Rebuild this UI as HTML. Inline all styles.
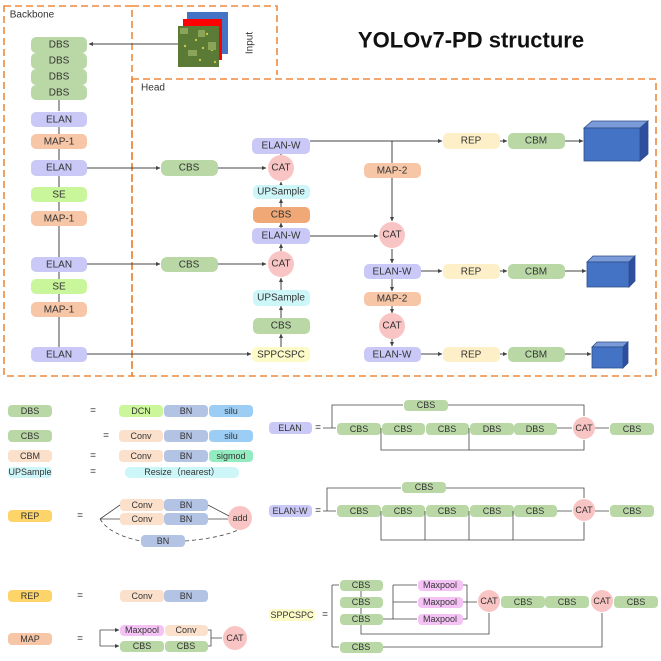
<!DOCTYPE html>
<html><head><meta charset="utf-8"><style>
html,body{margin:0;padding:0;background:#fff}
svg{display:block}
text{font-family:"Liberation Sans",sans-serif;font-size:10px;fill:#333;text-anchor:middle;dominant-baseline:central}
.s{font-size:9px}
</style></head><body>
<svg width="661" height="661" viewBox="0 0 661 661" xmlns="http://www.w3.org/2000/svg">
<defs>
<marker id="a" markerWidth="5" markerHeight="5" refX="4" refY="2.5" orient="auto" markerUnits="userSpaceOnUse"><path d="M0,0.5 L4.5,2.5 L0,4.5z" fill="#444"/></marker>
</defs>
<!-- dashed boxes -->
<g fill="none" stroke="#ed8a3f" stroke-width="1.6" stroke-dasharray="7,4">
<rect x="4" y="6" width="128" height="370"/>
<path d="M132,6 H277 V75"/>
<rect x="132" y="79" width="524" height="297"/>
</g>
<text x="32" y="15" style="font-size:10px">Backbone</text>
<text x="153" y="88" style="font-size:10px">Head</text>
<text x="471" y="40" style="font-size:22px;font-weight:bold;fill:#111">YOLOv7-PD structure</text>
<!-- input -->
<rect x="187" y="12" width="41" height="42" fill="#4472c4"/>
<rect x="183" y="19" width="39" height="41" fill="#f00"/>
<rect x="178" y="26" width="41" height="41" fill="#5b7a35"/>
<g fill="#c8c84a"><circle cx="184" cy="32" r="1.2"/><circle cx="196" cy="40" r="1.2"/><circle cx="207" cy="34" r="1.2"/><circle cx="190" cy="55" r="1.2"/><circle cx="212" cy="50" r="1.2"/><circle cx="200" cy="60" r="1.2"/><circle cx="185" cy="46" r="1.2"/><circle cx="215" cy="62" r="1.2"/><circle cx="203" cy="48" r="1.2"/></g>
<g fill="#8aa55a"><rect x="180" y="28" width="8" height="6"/><rect x="198" y="30" width="7" height="7"/><rect x="188" y="50" width="9" height="6"/><rect x="208" y="42" width="8" height="8"/></g>
<text x="250" y="43" transform="rotate(-90 250 43)">Input</text>
<g stroke="#444" stroke-width="1" fill="none">
<line x1="178" y1="44" x2="89" y2="44" marker-end="url(#a)"/>
<!-- backbone vertical -->
<line x1="59" y1="100" x2="59" y2="111"/>
<line x1="59" y1="127" x2="59" y2="135"/>
<line x1="59" y1="148" x2="59" y2="160"/>
<line x1="59" y1="176" x2="59" y2="187"/>
<line x1="59" y1="202" x2="59" y2="211"/>
<line x1="59" y1="225" x2="59" y2="257"/>
<line x1="59" y1="272" x2="59" y2="279"/>
<line x1="59" y1="294" x2="59" y2="302"/>
<line x1="59" y1="317" x2="59" y2="347"/>
<!-- to head -->
<line x1="87" y1="168" x2="160" y2="168" marker-end="url(#a)"/>
<line x1="218" y1="168" x2="266" y2="168" marker-end="url(#a)"/>
<line x1="87" y1="264" x2="160" y2="264" marker-end="url(#a)"/>
<line x1="218" y1="264" x2="266" y2="264" marker-end="url(#a)"/>
<line x1="87" y1="354" x2="251" y2="354" marker-end="url(#a)"/>
<!-- head column 1 upward -->
<line x1="281" y1="347" x2="281" y2="334" marker-end="url(#a)"/>
<line x1="281" y1="318" x2="281" y2="306" marker-end="url(#a)"/>
<line x1="281" y1="290" x2="281" y2="278" marker-end="url(#a)"/>
<line x1="281" y1="251" x2="281" y2="244" marker-end="url(#a)"/>
<line x1="281" y1="228" x2="281" y2="223" marker-end="url(#a)"/>
<line x1="281" y1="207" x2="281" y2="199" marker-end="url(#a)"/>
<line x1="281" y1="185" x2="281" y2="182" marker-end="url(#a)"/>
<line x1="281" y1="155" x2="281" y2="154"/>
<!-- top ELAN-W to REP -->
<line x1="310" y1="141" x2="442" y2="141" marker-end="url(#a)"/>
<line x1="500" y1="141" x2="507" y2="141" marker-end="url(#a)"/>
<line x1="565" y1="141" x2="583" y2="141" marker-end="url(#a)"/>
<line x1="392" y1="141" x2="392" y2="163"/>
<line x1="392" y1="178" x2="392" y2="221" marker-end="url(#a)"/>
<line x1="310" y1="236" x2="378" y2="236" marker-end="url(#a)"/>
<line x1="392" y1="249" x2="392" y2="263" marker-end="url(#a)"/>
<line x1="421" y1="271" x2="442" y2="271" marker-end="url(#a)"/>
<line x1="500" y1="271" x2="507" y2="271" marker-end="url(#a)"/>
<line x1="565" y1="271" x2="586" y2="271" marker-end="url(#a)"/>
<line x1="392" y1="279" x2="392" y2="291" marker-end="url(#a)"/>
<line x1="392" y1="306" x2="392" y2="313" marker-end="url(#a)"/>
<line x1="392" y1="339" x2="392" y2="346" marker-end="url(#a)"/>
<line x1="421" y1="354" x2="442" y2="354" marker-end="url(#a)"/>
<line x1="500" y1="354" x2="507" y2="354" marker-end="url(#a)"/>
<line x1="565" y1="354" x2="591" y2="354" marker-end="url(#a)"/>
</g>
<!-- backbone nodes -->
<g>
<rect x="31" y="37" width="56" height="16" rx="5" fill="#b9d8a6"/>
<rect x="31" y="53" width="56" height="16" rx="5" fill="#b9d8a6"/>
<rect x="31" y="69" width="56" height="16" rx="5" fill="#b9d8a6"/>
<rect x="31" y="85" width="56" height="15" rx="5" fill="#b9d8a6"/>
<rect x="31" y="112" width="56" height="15" rx="5" fill="#c9c8f6"/>
<rect x="31" y="134" width="56" height="15" rx="5" fill="#f6c6a6"/>
<rect x="31" y="160" width="56" height="16" rx="5" fill="#c9c8f6"/>
<rect x="31" y="187" width="56" height="15" rx="5" fill="#c9f59b"/>
<rect x="31" y="211" width="56" height="15" rx="5" fill="#f6c6a6"/>
<rect x="31" y="257" width="56" height="15" rx="5" fill="#c9c8f6"/>
<rect x="31" y="279" width="56" height="15" rx="5" fill="#c9f59b"/>
<rect x="31" y="302" width="56" height="15" rx="5" fill="#f6c6a6"/>
<rect x="31" y="347" width="56" height="15" rx="5" fill="#c9c8f6"/>
</g>
<text x="59" y="45">DBS</text><text x="59" y="61">DBS</text><text x="59" y="77">DBS</text><text x="59" y="93">DBS</text>
<text x="59" y="120">ELAN</text><text x="59" y="142">MAP-1</text><text x="59" y="168">ELAN</text>
<text x="59" y="195">SE</text><text x="59" y="219">MAP-1</text><text x="59" y="265">ELAN</text>
<text x="59" y="287">SE</text><text x="59" y="310">MAP-1</text><text x="59" y="355">ELAN</text>
<!-- head nodes -->
<rect x="161" y="160" width="57" height="16" rx="6" fill="#b9d8a6"/><text x="189" y="168">CBS</text>
<rect x="161" y="257" width="57" height="15" rx="6" fill="#b9d8a6"/><text x="189" y="265">CBS</text>
<circle cx="281" cy="168" r="13" fill="#f9c4c4"/><text x="281" y="168">CAT</text>
<circle cx="281" cy="264" r="13" fill="#f9c4c4"/><text x="281" y="264">CAT</text>
<rect x="252" y="138" width="58" height="16" rx="5" fill="#c9c8f6"/><text x="281" y="146">ELAN-W</text>
<rect x="253" y="185" width="57" height="14" rx="5" fill="#cdf6f8"/><text x="281" y="192">UPSample</text>
<rect x="253" y="207" width="57" height="16" rx="5" fill="#f0a876"/><text x="281" y="215">CBS</text>
<rect x="252" y="228" width="58" height="16" rx="5" fill="#c9c8f6"/><text x="281" y="236">ELAN-W</text>
<rect x="253" y="290" width="57" height="16" rx="5" fill="#cdf6f8"/><text x="281" y="298">UPSample</text>
<rect x="253" y="318" width="57" height="16" rx="5" fill="#b9d8a6"/><text x="281" y="326">CBS</text>
<rect x="252" y="347" width="58" height="15" rx="5" fill="#fdfbc8"/><text x="281" y="355">SPPCSPC</text>
<rect x="364" y="163" width="57" height="15" rx="5" fill="#f6c6a6"/><text x="392" y="171">MAP-2</text>
<circle cx="392" cy="235" r="13" fill="#f9c4c4"/><text x="392" y="235">CAT</text>
<rect x="364" y="264" width="57" height="15" rx="5" fill="#c9c8f6"/><text x="392" y="272">ELAN-W</text>
<rect x="364" y="292" width="57" height="14" rx="5" fill="#f6c6a6"/><text x="392" y="299">MAP-2</text>
<circle cx="392" cy="326" r="13" fill="#f9c4c4"/><text x="392" y="326">CAT</text>
<rect x="364" y="347" width="57" height="15" rx="5" fill="#c9c8f6"/><text x="392" y="355">ELAN-W</text>
<g>
<rect x="443" y="133" width="57" height="16" rx="5" fill="#fdf0c8"/><text x="471" y="141">REP</text>
<rect x="508" y="133" width="57" height="16" rx="5" fill="#b9d8a6"/><text x="536" y="141">CBM</text>
<rect x="443" y="264" width="57" height="15" rx="5" fill="#fdf0c8"/><text x="471" y="272">REP</text>
<rect x="508" y="264" width="57" height="15" rx="5" fill="#b9d8a6"/><text x="536" y="272">CBM</text>
<rect x="443" y="347" width="57" height="15" rx="5" fill="#fdf0c8"/><text x="471" y="355">REP</text>
<rect x="508" y="347" width="57" height="15" rx="5" fill="#b9d8a6"/><text x="536" y="355">CBM</text>
</g>
<!-- cubes -->
<g stroke="#2f4f8a" stroke-width="0.8">
<path d="M584,128 L592,121 L648,121 L640,128z" fill="#7a9ad8"/><path d="M640,128 L648,121 L648,154 L640,161z" fill="#2e4fa0"/><rect x="584" y="128" width="56" height="33" fill="#4472c4"/>
<path d="M587,262 L593,256 L635,256 L629,262z" fill="#7a9ad8"/><path d="M629,262 L635,256 L635,281 L629,287z" fill="#2e4fa0"/><rect x="587" y="262" width="42" height="25" fill="#4472c4"/>
<path d="M592,347 L597,342 L628,342 L623,347z" fill="#7a9ad8"/><path d="M623,347 L628,342 L628,363 L623,368z" fill="#2e4fa0"/><rect x="592" y="347" width="31" height="21" fill="#4472c4"/>
</g>
<!-- legend left -->
<g class="s">
<rect x="8" y="405" width="44" height="12" rx="4" fill="#b9d8a6"/><text class="s" x="30" y="411">DBS</text>
<text x="93" y="411">=</text>
<rect x="119" y="405" width="44" height="12" rx="4" fill="#cbf69a"/><text class="s" x="141" y="411">DCN</text>
<rect x="164" y="405" width="44" height="12" rx="4" fill="#b3c3e4"/><text class="s" x="186" y="411">BN</text>
<rect x="209" y="405" width="44" height="12" rx="4" fill="#9ccdf4"/><text class="s" x="231" y="411">silu</text>
<rect x="8" y="430" width="44" height="12" rx="4" fill="#b9d8a6"/><text class="s" x="30" y="436">CBS</text>
<text x="106" y="436">=</text>
<rect x="119" y="430" width="44" height="12" rx="4" fill="#fbe0cc"/><text class="s" x="141" y="436">Conv</text>
<rect x="164" y="430" width="44" height="12" rx="4" fill="#b3c3e4"/><text class="s" x="186" y="436">BN</text>
<rect x="209" y="430" width="44" height="12" rx="4" fill="#9ccdf4"/><text class="s" x="231" y="436">silu</text>
<rect x="8" y="450" width="44" height="12" rx="4" fill="#fbe0cc"/><text class="s" x="30" y="456">CBM</text>
<text x="93" y="456">=</text>
<rect x="119" y="450" width="44" height="12" rx="4" fill="#fbe0cc"/><text class="s" x="141" y="456">Conv</text>
<rect x="164" y="450" width="44" height="12" rx="4" fill="#b3c3e4"/><text class="s" x="186" y="456">BN</text>
<rect x="209" y="450" width="44" height="12" rx="4" fill="#93ecc0"/><text class="s" x="231" y="456">sigmod</text>
<rect x="8" y="467" width="44" height="11" rx="4" fill="#cdf6f8"/><text class="s" x="30" y="472">UPSample</text>
<text x="93" y="472">=</text>
<rect x="125" y="467" width="114" height="11" rx="5" fill="#cdf6f8"/><text class="s" x="182" y="472">Resize（nearest）</text>
<rect x="8" y="510" width="44" height="12" rx="4" fill="#fdd468"/><text class="s" x="30" y="516">REP</text>
<text x="80" y="516">=</text>
<rect x="120" y="499" width="44" height="12" rx="4" fill="#fbe0cc"/><text class="s" x="142" y="505">Conv</text>
<rect x="164" y="499" width="44" height="12" rx="4" fill="#b3c3e4"/><text class="s" x="186" y="505">BN</text>
<rect x="120" y="513" width="44" height="12" rx="4" fill="#fbe0cc"/><text class="s" x="142" y="519">Conv</text>
<rect x="164" y="513" width="44" height="12" rx="4" fill="#b3c3e4"/><text class="s" x="186" y="519">BN</text>
<rect x="141" y="535" width="44" height="12" rx="4" fill="#b3c3e4"/><text class="s" x="163" y="541">BN</text>
<circle cx="240" cy="518" r="12" fill="#f9c4c4"/><text class="s" x="240" y="518">add</text>
<rect x="8" y="590" width="44" height="12" rx="4" fill="#fdd468"/><text class="s" x="30" y="596">REP</text>
<text x="80" y="596">=</text>
<rect x="120" y="590" width="44" height="12" rx="4" fill="#fbe0cc"/><text class="s" x="142" y="596">Conv</text>
<rect x="164" y="590" width="44" height="12" rx="4" fill="#b3c3e4"/><text class="s" x="186" y="596">BN</text>
<rect x="8" y="633" width="44" height="12" rx="4" fill="#f6c6a6"/><text class="s" x="30" y="639">MAP</text>
<text x="80" y="639">=</text>
<rect x="120" y="625" width="44" height="11" rx="4" fill="#f5c2f5"/><text class="s" x="142" y="630">Maxpool</text>
<rect x="165" y="625" width="43" height="11" rx="4" fill="#fbe0cc"/><text class="s" x="186" y="630">Conv</text>
<rect x="120" y="641" width="44" height="11" rx="4" fill="#b9d8a6"/><text class="s" x="142" y="646">CBS</text>
<rect x="165" y="641" width="43" height="11" rx="4" fill="#b9d8a6"/><text class="s" x="186" y="646">CBS</text>
<circle cx="235" cy="638" r="12" fill="#f9c4c4"/><text class="s" x="235" y="638">CAT</text>
</g>
<g stroke="#444" stroke-width="0.8" fill="none">
<path d="M100,519 L120,505 M100,519 L120,519"/>
<path d="M100,519 Q110,535 141,541" stroke-dasharray="4,3"/>
<path d="M185,541 Q220,538 238,530" stroke-dasharray="4,3"/>
<path d="M208,505 L229,516 M208,519 L228,519"/>
<path d="M100,630 V646"/>
<line x1="100" y1="630" x2="119" y2="630" marker-end="url(#a)"/>
<line x1="100" y1="646" x2="119" y2="646" marker-end="url(#a)"/>
<path d="M208,630 H211 V646 H208 M211,638 H222"/>
</g>
<!-- ELAN -->
<g class="s">
<rect x="269" y="422" width="43" height="12" rx="4" fill="#c9c8f6"/><text class="s" x="290" y="428">ELAN</text>
<text x="318" y="428">=</text>
<rect x="404" y="400" width="44" height="11" rx="4" fill="#b9d8a6"/><text class="s" x="426" y="405">CBS</text>
<rect x="337" y="423" width="44" height="12" rx="4" fill="#b9d8a6"/><text class="s" x="359" y="429">CBS</text>
<rect x="382" y="423" width="43" height="12" rx="4" fill="#b9d8a6"/><text class="s" x="403" y="429">CBS</text>
<rect x="426" y="423" width="43" height="12" rx="4" fill="#b9d8a6"/><text class="s" x="447" y="429">CBS</text>
<rect x="470" y="423" width="44" height="12" rx="4" fill="#b9d8a6"/><text class="s" x="492" y="429">DBS</text>
<rect x="514" y="423" width="43" height="12" rx="4" fill="#b9d8a6"/><text class="s" x="535" y="429">DBS</text>
<circle cx="584" cy="428" r="11" fill="#f9c4c4"/><text class="s" x="584" y="428">CAT</text>
<rect x="610" y="423" width="44" height="12" rx="4" fill="#b9d8a6"/><text class="s" x="632" y="429">CBS</text>
<rect x="269" y="505" width="43" height="12" rx="4" fill="#c9c8f6"/><text class="s" x="290" y="511">ELAN-W</text>
<text x="318" y="511">=</text>
<rect x="402" y="482" width="44" height="11" rx="4" fill="#b9d8a6"/><text class="s" x="424" y="487">CBS</text>
<rect x="337" y="505" width="44" height="12" rx="4" fill="#b9d8a6"/><text class="s" x="359" y="511">CBS</text>
<rect x="382" y="505" width="43" height="12" rx="4" fill="#b9d8a6"/><text class="s" x="403" y="511">CBS</text>
<rect x="426" y="505" width="43" height="12" rx="4" fill="#b9d8a6"/><text class="s" x="447" y="511">CBS</text>
<rect x="470" y="505" width="44" height="12" rx="4" fill="#b9d8a6"/><text class="s" x="492" y="511">CBS</text>
<rect x="514" y="505" width="43" height="12" rx="4" fill="#b9d8a6"/><text class="s" x="535" y="511">CBS</text>
<circle cx="584" cy="510" r="11" fill="#f9c4c4"/><text class="s" x="584" y="510">CAT</text>
<rect x="610" y="505" width="44" height="12" rx="4" fill="#b9d8a6"/><text class="s" x="632" y="511">CBS</text>
<rect x="269" y="609" width="46" height="12" rx="4" fill="#fdfbc8"/><text class="s" x="292" y="615">SPPCSPC</text>
<text x="325" y="615">=</text>
<rect x="340" y="580" width="43" height="11" rx="4" fill="#b9d8a6"/><text class="s" x="361" y="585">CBS</text>
<rect x="340" y="597" width="43" height="11" rx="4" fill="#b9d8a6"/><text class="s" x="361" y="602">CBS</text>
<rect x="340" y="614" width="43" height="11" rx="4" fill="#b9d8a6"/><text class="s" x="361" y="619">CBS</text>
<rect x="340" y="642" width="43" height="11" rx="4" fill="#b9d8a6"/><text class="s" x="361" y="647">CBS</text>
<rect x="418" y="580" width="45" height="11" rx="4" fill="#f5c2f5"/><text class="s" x="440" y="585">Maxpool</text>
<rect x="418" y="597" width="45" height="11" rx="4" fill="#f5c2f5"/><text class="s" x="440" y="602">Maxpool</text>
<rect x="418" y="614" width="45" height="11" rx="4" fill="#f5c2f5"/><text class="s" x="440" y="619">Maxpool</text>
<circle cx="489" cy="601" r="11" fill="#f9c4c4"/><text class="s" x="489" y="601">CAT</text>
<rect x="501" y="596" width="44" height="12" rx="4" fill="#b9d8a6"/><text class="s" x="523" y="602">CBS</text>
<rect x="545" y="596" width="44" height="12" rx="4" fill="#b9d8a6"/><text class="s" x="567" y="602">CBS</text>
<circle cx="602" cy="601" r="11" fill="#f9c4c4"/><text class="s" x="602" y="601">CAT</text>
<rect x="614" y="596" width="44" height="12" rx="4" fill="#b9d8a6"/><text class="s" x="636" y="602">CBS</text>
</g>
<g stroke="#444" stroke-width="0.8" fill="none">
<path d="M323,428 H336 M332,428 V405 H403 M448,405 H584 V416"/>
<path d="M557,428 H572 M595,428 H609"/>
<path d="M381,428 V450 H584 V440 M469,428 V450"/>
<path d="M323,511 H336 M327,511 V488 H401 M446,488 H584 V498"/>
<path d="M557,511 H572 M595,511 H609"/>
<path d="M381,511 V540 H584 V522 M425,511 V540 M469,511 V540 M513,511 V540"/>
<path d="M332,585 V647 M332,585 H339 M332,647 H339"/>
<path d="M361,591 V597 M361,608 V614"/>
<path d="M383,619 H393 M393,585 V619 M393,585 H417 M393,602 H417 M393,619 H417"/>
<path d="M463,585 H467 V619 H463 M463,602 H477"/>
<path d="M361,625 V634 H489 V613"/>
<path d="M383,647 H602 V613"/>
</g>
</svg>
</body></html>
